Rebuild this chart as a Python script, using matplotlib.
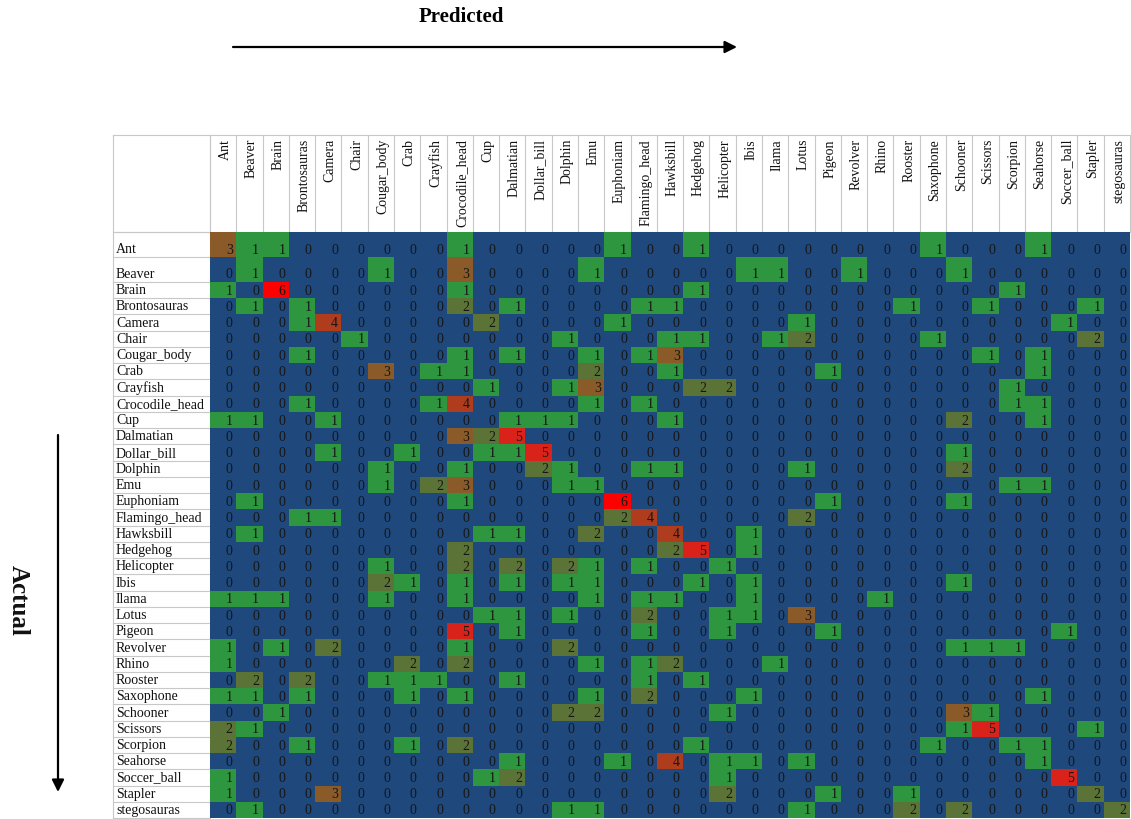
import numpy as np
import matplotlib
matplotlib.use("Agg")
import matplotlib.pyplot as plt
from matplotlib.colors import ListedColormap, BoundaryNorm

classes = ["Ant", "Beaver", "Brain", "Brontosauras", "Camera", "Chair", "Cougar_body",
           "Crab", "Crayfish", "Crocodile_head", "Cup", "Dalmatian", "Dollar_bill",
           "Dolphin", "Emu", "Euphoniam", "Flamingo_head", "Hawksbill", "Hedgehog",
           "Helicopter", "Ibis", "Ilama", "Lotus", "Pigeon", "Revolver", "Rhino",
           "Rooster", "Saxophone", "Schooner", "Scissors", "Scorpion", "Seahorse",
           "Soccer_ball", "Stapler", "stegosauras"]

# rows = actual, columns = predicted
counts = [
    [3,1,1,0,0,0,0,0,0,1, 0,0,0,0,0,1,0,0,1,0, 0,0,0,0,0,0,0,1,0,0, 0,1,0,0,0],  # Ant
    [0,1,0,0,0,0,1,0,0,3, 0,0,0,0,1,0,0,0,0,0, 1,1,0,0,1,0,0,0,1,0, 0,0,0,0,0],  # Beaver
    [1,0,6,0,0,0,0,0,0,1, 0,0,0,0,0,0,0,0,1,0, 0,0,0,0,0,0,0,0,0,0, 1,0,0,0,0],  # Brain
    [0,1,0,1,0,0,0,0,0,2, 0,1,0,0,0,0,1,1,0,0, 0,0,0,0,0,0,1,0,0,1, 0,0,0,1,0],  # Brontosauras
    [0,0,0,1,4,0,0,0,0,0, 2,0,0,0,0,1,0,0,0,0, 0,0,1,0,0,0,0,0,0,0, 0,0,1,0,0],  # Camera
    [0,0,0,0,0,1,0,0,0,0, 0,0,0,1,0,0,0,1,1,0, 0,1,2,0,0,0,0,1,0,0, 0,0,0,2,0],  # Chair
    [0,0,0,1,0,0,0,0,0,1, 0,1,0,0,1,0,1,3,0,0, 0,0,0,0,0,0,0,0,0,1, 0,1,0,0,0],  # Cougar_body
    [0,0,0,0,0,0,3,0,1,1, 0,0,0,0,2,0,0,1,0,0, 0,0,0,1,0,0,0,0,0,0, 0,1,0,0,0],  # Crab
    [0,0,0,0,0,0,0,0,0,0, 1,0,0,1,3,0,0,0,2,2, 0,0,0,0,0,0,0,0,0,0, 1,0,0,0,0],  # Crayfish
    [0,0,0,1,0,0,0,0,1,4, 0,0,0,0,1,0,1,0,0,0, 0,0,0,0,0,0,0,0,0,0, 1,1,0,0,0],  # Crocodile_head
    [1,1,0,0,1,0,0,0,0,0, 0,1,1,1,0,0,0,1,0,0, 0,0,0,0,0,0,0,0,2,0, 0,1,0,0,0],  # Cup
    [0,0,0,0,0,0,0,0,0,3, 2,5,0,0,0,0,0,0,0,0, 0,0,0,0,0,0,0,0,0,0, 0,0,0,0,0],  # Dalmatian
    [0,0,0,0,1,0,0,1,0,0, 1,1,5,0,0,0,0,0,0,0, 0,0,0,0,0,0,0,0,1,0, 0,0,0,0,0],  # Dollar_bill
    [0,0,0,0,0,0,1,0,0,1, 0,0,2,1,0,0,1,1,0,0, 0,0,1,0,0,0,0,0,2,0, 0,0,0,0,0],  # Dolphin
    [0,0,0,0,0,0,1,0,2,3, 0,0,0,1,1,0,0,0,0,0, 0,0,0,0,0,0,0,0,0,0, 1,1,0,0,0],  # Emu
    [0,1,0,0,0,0,0,0,0,1, 0,0,0,0,0,6,0,0,0,0, 0,0,0,1,0,0,0,0,1,0, 0,0,0,0,0],  # Euphoniam
    [0,0,0,1,1,0,0,0,0,0, 0,0,0,0,0,2,4,0,0,0, 0,0,2,0,0,0,0,0,0,0, 0,0,0,0,0],  # Flamingo_head
    [0,1,0,0,0,0,0,0,0,0, 1,1,0,0,2,0,0,4,0,0, 1,0,0,0,0,0,0,0,0,0, 0,0,0,0,0],  # Hawksbill
    [0,0,0,0,0,0,0,0,0,2, 0,0,0,0,0,0,0,2,5,0, 1,0,0,0,0,0,0,0,0,0, 0,0,0,0,0],  # Hedgehog
    [0,0,0,0,0,0,1,0,0,2, 0,2,0,2,1,0,1,0,0,1, 0,0,0,0,0,0,0,0,0,0, 0,0,0,0,0],  # Helicopter
    [0,0,0,0,0,0,2,1,0,1, 0,1,0,1,1,0,0,0,1,0, 1,0,0,0,0,0,0,0,1,0, 0,0,0,0,0],  # Ibis
    [1,1,1,0,0,0,1,0,0,1, 0,0,0,0,1,0,1,1,0,0, 1,0,0,0,0,1,0,0,0,0, 0,0,0,0,0],  # Ilama
    [0,0,0,0,0,0,0,0,0,0, 1,1,0,1,0,0,2,0,0,1, 1,0,3,0,0,0,0,0,0,0, 0,0,0,0,0],  # Lotus
    [0,0,0,0,0,0,0,0,0,5, 0,1,0,0,0,0,1,0,0,1, 0,0,0,1,0,0,0,0,0,0, 0,0,1,0,0],  # Pigeon
    [1,0,1,0,2,0,0,0,0,1, 0,0,0,2,0,0,0,0,0,0, 0,0,0,0,0,0,0,0,1,1, 1,0,0,0,0],  # Revolver
    [1,0,0,0,0,0,0,2,0,2, 0,0,0,0,1,0,1,2,0,0, 0,1,0,0,0,0,0,0,0,0, 0,0,0,0,0],  # Rhino
    [0,2,0,2,0,0,1,1,1,0, 0,1,0,0,0,0,1,0,1,0, 0,0,0,0,0,0,0,0,0,0, 0,0,0,0,0],  # Rooster
    [1,1,0,1,0,0,0,1,0,1, 0,0,0,0,1,0,2,0,0,0, 1,0,0,0,0,0,0,0,0,0, 0,1,0,0,0],  # Saxophone
    [0,0,1,0,0,0,0,0,0,0, 0,0,0,2,2,0,0,0,0,1, 0,0,0,0,0,0,0,0,3,1, 0,0,0,0,0],  # Schooner
    [2,1,0,0,0,0,0,0,0,0, 0,0,0,0,0,0,0,0,0,0, 0,0,0,0,0,0,0,0,1,5, 0,0,0,1,0],  # Scissors
    [2,0,0,1,0,0,0,1,0,2, 0,0,0,0,0,0,0,0,1,0, 0,0,0,0,0,0,0,1,0,0, 1,1,0,0,0],  # Scorpion
    [0,0,0,0,0,0,0,0,0,0, 0,1,0,0,0,1,0,4,0,1, 1,0,1,0,0,0,0,0,0,0, 0,1,0,0,0],  # Seahorse
    [1,0,0,0,0,0,0,0,0,0, 1,2,0,0,0,0,0,0,0,1, 0,0,0,0,0,0,0,0,0,0, 0,0,5,0,0],  # Soccer_ball
    [1,0,0,0,3,0,0,0,0,0, 0,0,0,0,0,0,0,0,0,2, 0,0,0,1,0,0,1,0,0,0, 0,0,0,2,0],  # Stapler
    [0,1,0,0,0,0,0,0,0,0, 0,0,0,1,1,0,0,0,0,0, 0,0,1,0,0,0,2,0,2,0, 0,0,0,0,2],  # stegosauras
]

x_title = "Predicted"
y_title = "Actual"

# colour for each count value 0..6
level_colors = ["#1F497D", "#2E963F", "#5C7337", "#8A5A28", "#B03C1E", "#D8221A", "#FF0000"]

SERIF = ["Liberation Serif", "DejaVu Serif"]

W, H = 1131, 819
fig = plt.figure(figsize=(W / 100, H / 100), dpi=100)
fig.patch.set_facecolor("white")

# ---- layout in pixels ----
tbl_left, lab_right, tbl_right = 113, 210, 1130
hdr_top, hdr_bottom, tbl_bottom = 135, 232, 818
n = len(classes)
tall = 25.0
row_h = [tall, tall] + [(tbl_bottom - hdr_bottom - 2 * tall) / (n - 2)] * (n - 2)
y_edges = np.concatenate([[0.0], np.cumsum(row_h)])
col_w = (tbl_right - lab_right) / n
grid_col = "#C8C8C8"

# overlay axes in pixel coordinates
ov = fig.add_axes([0, 0, 1, 1])
ov.set_xlim(0, W)
ov.set_ylim(H, 0)
ov.axis("off")

# cell axes
ax = fig.add_axes([lab_right / W, 1 - tbl_bottom / H,
                   (tbl_right - lab_right) / W, (tbl_bottom - hdr_bottom) / H])
M = np.array(counts)
cmap = ListedColormap(level_colors)
norm = BoundaryNorm(np.arange(-0.5, len(level_colors) + 0.5, 1), cmap.N)
ax.pcolormesh(np.arange(n + 1), y_edges, M, cmap=cmap, norm=norm, shading="flat")
ax.set_xlim(0, n)
ax.set_ylim(y_edges[-1], 0)
ax.axis("off")
for i in range(n):
    for j in range(n):
        ax.text(j + 1 - 0.13, y_edges[i + 1] - 3.5, str(M[i, j]), ha="right",
                va="baseline", fontsize=10, family=SERIF, color="#161616")

# grid lines of header and label column
for k in range(n + 1):
    yy = hdr_bottom + y_edges[k]
    ov.plot([tbl_left, lab_right], [yy, yy], color=grid_col, lw=0.8)
for k in range(n + 1):
    xx = lab_right + col_w * k
    ov.plot([xx, xx], [hdr_top, hdr_bottom], color=grid_col, lw=0.8)
ov.plot([tbl_left, tbl_right], [hdr_top, hdr_top], color=grid_col, lw=0.8)
ov.plot([tbl_left, tbl_left], [hdr_top, tbl_bottom], color=grid_col, lw=0.8)
ov.plot([lab_right, lab_right], [hdr_top, tbl_bottom], color=grid_col, lw=0.8)
ov.plot([tbl_left, tbl_right], [hdr_bottom, hdr_bottom], color=grid_col, lw=0.8)

# row labels
for i, name in enumerate(classes):
    ov.text(116, hdr_bottom + y_edges[i + 1] - 4, name, ha="left", va="baseline",
            fontsize=10, family=SERIF, color="#111111")

# column labels
for j, name in enumerate(classes):
    ov.text(lab_right + col_w * (j + 0.5) + 2, 139, name, rotation=90,
            rotation_mode="anchor", ha="right", va="center",
            fontsize=10, family=SERIF, color="#111111")

# titles and arrows
ov.text(461, 17, x_title, ha="center", va="center", fontsize=15,
        fontweight="bold", family=SERIF, color="black")
ov.annotate("", xy=(737, 47), xytext=(233, 47),
            arrowprops=dict(arrowstyle="-|>", color="black", lw=1.6,
                            mutation_scale=18, shrinkA=0, shrinkB=0))
ov.text(18, 600, y_title, rotation=-90, ha="center", va="center", fontsize=18,
        fontweight="bold", family=SERIF, color="#111111")
ov.annotate("", xy=(58, 792), xytext=(58, 435),
            arrowprops=dict(arrowstyle="-|>", color="black", lw=1.6,
                            mutation_scale=18, shrinkA=0, shrinkB=0))

fig.savefig("out.png", dpi=100, facecolor="white")
